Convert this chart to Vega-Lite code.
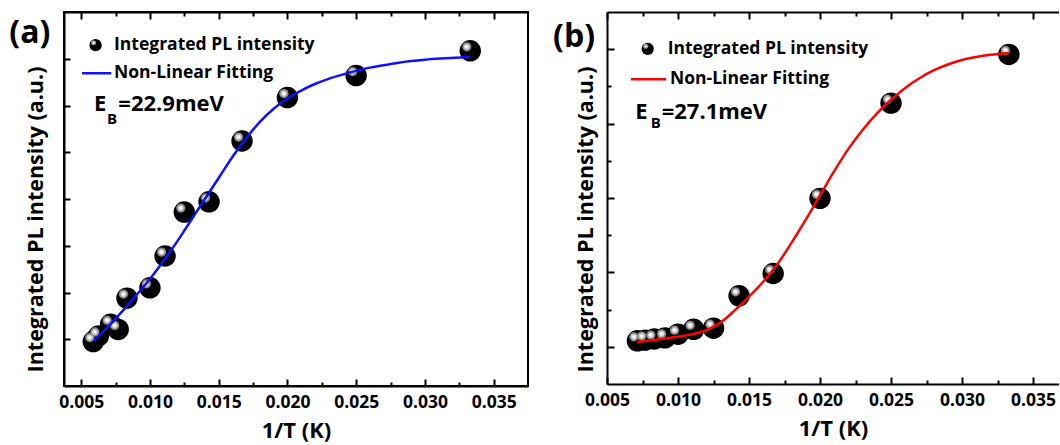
{
  "$schema": "https://vega.github.io/schema/vega-lite/v6.json",
  "autosize": {"type": "pad"},
  "padding": {"left": 8, "top": 10, "right": 0, "bottom": 0},
  "background": "white",
  "spacing": 24,
  "config": {
    "font": "Open Sans",
    "view": {"stroke": null},
    "axis": {
      "grid": false,
      "domainColor": "black",
      "domainWidth": 2,
      "tickColor": "black",
      "tickWidth": 2,
      "labelColor": "black",
      "titleColor": "black",
      "labelFont": "Open Sans",
      "titleFont": "Open Sans",
      "labelFontWeight": "bold",
      "titleFontWeight": "bold",
      "labelFontSize": 17.5,
      "titleFontSize": 21.5,
      "labelFlush": false,
      "labelOverlap": false
    }
  },
  "datasets": {
    "ptsA": [
      {"x": 0.00588, "y": -0.05}, {"x": 0.00625, "y": 0.07}, {"x": 0.00714, "y": 0.32},
      {"x": 0.00769, "y": 0.21}, {"x": 0.00833, "y": 0.88}, {"x": 0.0100, "y": 1.10},
      {"x": 0.0111, "y": 1.78}, {"x": 0.0125, "y": 2.72}, {"x": 0.0143, "y": 2.94},
      {"x": 0.0167, "y": 4.24}, {"x": 0.0200, "y": 5.17}, {"x": 0.0250, "y": 5.64},
      {"x": 0.0333, "y": 6.17}
    ],
    "fitA": [
      {"x": 0.0059, "y": -0.04}, {"x": 0.007, "y": 0.28}, {"x": 0.008, "y": 0.60},
      {"x": 0.009, "y": 0.94}, {"x": 0.010, "y": 1.29}, {"x": 0.011, "y": 1.68},
      {"x": 0.012, "y": 2.10}, {"x": 0.013, "y": 2.55}, {"x": 0.014, "y": 3.00},
      {"x": 0.015, "y": 3.45}, {"x": 0.016, "y": 3.90}, {"x": 0.017, "y": 4.30},
      {"x": 0.018, "y": 4.65}, {"x": 0.019, "y": 4.93}, {"x": 0.020, "y": 5.15},
      {"x": 0.021, "y": 5.32}, {"x": 0.022, "y": 5.46}, {"x": 0.023, "y": 5.57},
      {"x": 0.024, "y": 5.66}, {"x": 0.025, "y": 5.74}, {"x": 0.026, "y": 5.81},
      {"x": 0.027, "y": 5.86}, {"x": 0.028, "y": 5.91}, {"x": 0.029, "y": 5.95},
      {"x": 0.030, "y": 5.98}, {"x": 0.0315, "y": 6.01}, {"x": 0.0333, "y": 6.04}
    ],
    "ptsB": [
      {"x": 0.00714, "y": 0.16}, {"x": 0.00769, "y": 0.18}, {"x": 0.00833, "y": 0.21},
      {"x": 0.00909, "y": 0.24}, {"x": 0.0100, "y": 0.34}, {"x": 0.0111, "y": 0.47},
      {"x": 0.0125, "y": 0.50}, {"x": 0.0143, "y": 1.37}, {"x": 0.0167, "y": 1.97},
      {"x": 0.0200, "y": 3.99}, {"x": 0.0250, "y": 6.55}, {"x": 0.0333, "y": 7.86}
    ],
    "fitB": [
      {"x": 0.0071, "y": 0.13}, {"x": 0.008, "y": 0.17}, {"x": 0.009, "y": 0.22},
      {"x": 0.010, "y": 0.27}, {"x": 0.011, "y": 0.34}, {"x": 0.012, "y": 0.45},
      {"x": 0.013, "y": 0.65}, {"x": 0.014, "y": 0.98}, {"x": 0.015, "y": 1.35},
      {"x": 0.016, "y": 1.75}, {"x": 0.017, "y": 2.22}, {"x": 0.018, "y": 2.80},
      {"x": 0.019, "y": 3.42}, {"x": 0.020, "y": 4.07}, {"x": 0.021, "y": 4.72},
      {"x": 0.022, "y": 5.32}, {"x": 0.023, "y": 5.83}, {"x": 0.024, "y": 6.27},
      {"x": 0.025, "y": 6.64}, {"x": 0.026, "y": 6.96}, {"x": 0.027, "y": 7.22},
      {"x": 0.028, "y": 7.43}, {"x": 0.029, "y": 7.59}, {"x": 0.030, "y": 7.71},
      {"x": 0.031, "y": 7.79}, {"x": 0.032, "y": 7.85}, {"x": 0.0333, "y": 7.90}
    ]
  },
  "hconcat": [
    {
      "width": 464,
      "height": 374,
      "view": {"stroke": "black", "strokeWidth": 2},
      "resolve": {"axis": {"x": "independent", "y": "independent"}},
      "encoding": {
        "x": {"field": "x", "type": "quantitative", "scale": {"domain": [0.00375, 0.0375], "nice": false, "zero": false}, "axis": null},
        "y": {"field": "y", "type": "quantitative", "scale": {"domain": [-1, 7], "nice": false, "zero": false}, "axis": null}
      },
      "layer": [
        {
          "data": {"name": "ptsA"},
          "mark": {"type": "point", "filled": true, "color": "black", "size": 460, "opacity": 1, "strokeWidth": 0},
          "encoding": {
            "x": {"field": "x", "type": "quantitative", "scale": {"domain": [0.00375, 0.0375], "nice": false, "zero": false},
              "axis": {"orient": "bottom", "values": [0.005, 0.0075, 0.01, 0.0125, 0.015, 0.0175, 0.02, 0.0225, 0.025, 0.0275, 0.03, 0.0325, 0.035],
                "labelExpr": "round(datum.value*2000)%2==0 ? format(datum.value,'.3f') : ''",
                "tickSize": {"condition": {"test": "round(datum.value*2000)%2==0", "value": -7}, "value": -4},
                "labelPadding": 14, "title": "1/T (K)", "titleFontSize": 22, "titlePadding": 7}},
            "y": {"field": "y", "type": "quantitative", "scale": {"domain": [-1, 7], "nice": false, "zero": false},
              "axis": {"orient": "left", "values": [0, 1, 2, 3, 4, 5, 6], "labels": false, "tickSize": -6,
                "title": "Integrated PL intensity (a.u.)", "titleX": -17, "titleY": 207}}
          }
        },
        {
          "data": {"name": "ptsA"},
          "mark": {"type": "point", "filled": true, "color": "#8c8c8c", "size": 85, "xOffset": -3.5, "yOffset": -4, "opacity": 1, "strokeWidth": 0},
          "encoding": {
            "x": {"field": "x", "type": "quantitative", "scale": {"domain": [0.00375, 0.0375], "nice": false, "zero": false},
              "axis": {"orient": "top", "values": [0.005, 0.0075, 0.01, 0.0125, 0.015, 0.0175, 0.02, 0.0225, 0.025, 0.0275, 0.03, 0.0325, 0.035],
                "labels": false, "title": null,
                "tickSize": {"condition": {"test": "round(datum.value*2000)%2==0", "value": -7}, "value": -4}}}
          }
        },
        {
          "data": {"name": "ptsA"},
          "mark": {"type": "point", "filled": true, "color": "#d8d8d8", "size": 32, "xOffset": -3.5, "yOffset": -4, "opacity": 1, "strokeWidth": 0}
        },
        {
          "data": {"name": "ptsA"},
          "mark": {"type": "point", "filled": true, "color": "white", "size": 8, "xOffset": -3.5, "yOffset": -4, "opacity": 1, "strokeWidth": 0}
        },
        {
          "data": {"name": "fitA"},
          "mark": {"type": "line", "color": "#1010ff", "strokeWidth": 2.5, "interpolate": "monotone"}
        },
        {
          "data": {"values": [{"x": 0.00605, "y": 6.29}]},
          "mark": {"type": "point", "filled": true, "color": "black", "size": 150, "opacity": 1, "strokeWidth": 0}
        },
        {
          "data": {"values": [{"x": 0.00605, "y": 6.29}]},
          "mark": {"type": "point", "filled": true, "color": "#999999", "size": 25, "xOffset": -2, "yOffset": -2.5, "opacity": 1, "strokeWidth": 0}
        },
        {
          "data": {"values": [{"x": 0.00605, "y": 6.29}]},
          "mark": {"type": "point", "filled": true, "color": "white", "size": 5, "xOffset": -2, "yOffset": -2.5, "opacity": 1, "strokeWidth": 0}
        },
        {
          "data": {"values": [{"x": 0.00506, "x2": 0.00719, "y": 5.69}]},
          "mark": {"type": "rule", "color": "#1010ff", "strokeWidth": 2.5},
          "encoding": {"x2": {"field": "x2"}}
        },
        {
          "data": {"values": [{"x": 0.00739, "y": 6.29, "t": "Integrated PL intensity"}, {"x": 0.00739, "y": 5.69, "t": "Non-Linear Fitting"}]},
          "mark": {"type": "text", "font": "Open Sans", "fontWeight": "bold", "fontSize": 17.5, "align": "left", "baseline": "middle", "color": "black"},
          "encoding": {"text": {"field": "t"}}
        },
        {
          "data": {"values": [{"x": 0.00593, "y": 5.04, "t": "E"}, {"x": 0.00770, "y": 5.04, "t": "=22.9meV"}]},
          "mark": {"type": "text", "font": "Open Sans", "fontWeight": "bold", "fontSize": 22, "align": "left", "baseline": "middle", "color": "black"},
          "encoding": {"text": {"field": "t"}}
        },
        {
          "data": {"values": [{"x": 0.00688, "y": 4.72, "t": "B"}]},
          "mark": {"type": "text", "font": "Open Sans", "fontWeight": "bold", "fontSize": 15, "align": "left", "baseline": "middle", "color": "black"},
          "encoding": {"text": {"field": "t"}}
        },
        {
          "data": {"values": [{"x": -0.00023, "y": 6.55, "t": "(a)"}]},
          "mark": {"type": "text", "font": "Open Sans", "fontWeight": "bold", "fontSize": 32, "align": "left", "baseline": "middle", "color": "black"},
          "encoding": {"text": {"field": "t"}}
        }
      ]
    },
    {
      "width": 452,
      "height": 372,
      "view": {"stroke": null},
      "resolve": {"axis": {"x": "independent", "y": "independent"}},
      "encoding": {
        "x": {"field": "x", "type": "quantitative", "scale": {"domain": [0.005, 0.03683], "nice": false, "zero": false}, "axis": null},
        "y": {"field": "y", "type": "quantitative", "scale": {"domain": [-1, 9], "nice": false, "zero": false}, "axis": null}
      },
      "layer": [
        {
          "data": {"name": "ptsB"},
          "mark": {"type": "point", "filled": true, "color": "black", "size": 460, "opacity": 1, "strokeWidth": 0},
          "encoding": {
            "x": {"field": "x", "type": "quantitative", "scale": {"domain": [0.005, 0.03683], "nice": false, "zero": false},
              "axis": {"orient": "bottom", "values": [0.005, 0.0075, 0.01, 0.0125, 0.015, 0.0175, 0.02, 0.0225, 0.025, 0.0275, 0.03, 0.0325, 0.035],
                "labelExpr": "round(datum.value*2000)%2==0 ? format(datum.value,'.3f') : ''",
                "tickSize": {"condition": {"test": "round(datum.value*2000)%2==0", "value": -7}, "value": -4},
                "labelPadding": 14, "title": "1/T (K)", "titleFontSize": 22, "titlePadding": 7}},
            "y": {"field": "y", "type": "quantitative", "scale": {"domain": [-1, 9], "nice": false, "zero": false},
              "axis": {"orient": "left", "values": [0, 1, 2, 3, 4, 5, 6, 7, 8], "labels": false,
                "tickSize": {"condition": {"test": "datum.value%2==0", "value": -7}, "value": -4},
                "title": "Integrated PL intensity (a.u.)", "titleX": -10, "titleY": 207}}
          }
        },
        {
          "data": {"name": "ptsB"},
          "mark": {"type": "point", "filled": true, "color": "#8c8c8c", "size": 85, "xOffset": -3.5, "yOffset": -4, "opacity": 1, "strokeWidth": 0},
          "encoding": {
            "x": {"field": "x", "type": "quantitative", "scale": {"domain": [0.005, 0.03683], "nice": false, "zero": false},
              "axis": {"orient": "top", "values": [0.005, 0.0075, 0.01, 0.0125, 0.015, 0.0175, 0.02, 0.0225, 0.025, 0.0275, 0.03, 0.0325, 0.035],
                "labels": false, "title": null,
                "tickSize": {"condition": {"test": "round(datum.value*2000)%2==0", "value": -7}, "value": -4}}}
          }
        },
        {
          "data": {"name": "ptsB"},
          "mark": {"type": "point", "filled": true, "color": "#d8d8d8", "size": 32, "xOffset": -3.5, "yOffset": -4, "opacity": 1, "strokeWidth": 0}
        },
        {
          "data": {"name": "ptsB"},
          "mark": {"type": "point", "filled": true, "color": "white", "size": 8, "xOffset": -3.5, "yOffset": -4, "opacity": 1, "strokeWidth": 0}
        },
        {
          "data": {"name": "fitB"},
          "mark": {"type": "line", "color": "#ff0000", "strokeWidth": 2.5, "interpolate": "monotone"}
        },
        {
          "data": {"values": [{"x": 0.007866, "y": 8.01}]},
          "mark": {"type": "point", "filled": true, "color": "black", "size": 150, "opacity": 1, "strokeWidth": 0}
        },
        {
          "data": {"values": [{"x": 0.007866, "y": 8.01}]},
          "mark": {"type": "point", "filled": true, "color": "#999999", "size": 25, "xOffset": -2, "yOffset": -2.5, "opacity": 1, "strokeWidth": 0}
        },
        {
          "data": {"values": [{"x": 0.007866, "y": 8.01}]},
          "mark": {"type": "point", "filled": true, "color": "white", "size": 5, "xOffset": -2, "yOffset": -2.5, "opacity": 1, "strokeWidth": 0}
        },
        {
          "data": {"values": [{"x": 0.00669, "x2": 0.009155, "y": 7.19}]},
          "mark": {"type": "rule", "color": "#ff0000", "strokeWidth": 2.5},
          "encoding": {"x2": {"field": "x2"}}
        },
        {
          "data": {"values": [{"x": 0.009275, "y": 8.01, "t": "Integrated PL intensity"}, {"x": 0.009437, "y": 7.19, "t": "Non-Linear Fitting"}]},
          "mark": {"type": "text", "font": "Open Sans", "fontWeight": "bold", "fontSize": 17.5, "align": "left", "baseline": "middle", "color": "black"},
          "encoding": {"text": {"field": "t"}}
        },
        {
          "data": {"values": [{"x": 0.006993, "y": 6.325, "t": "E"}, {"x": 0.00885, "y": 6.325, "t": "=27.1meV"}]},
          "mark": {"type": "text", "font": "Open Sans", "fontWeight": "bold", "fontSize": 22, "align": "left", "baseline": "middle", "color": "black"},
          "encoding": {"text": {"field": "t"}}
        },
        {
          "data": {"values": [{"x": 0.00808, "y": 6.024, "t": "B"}]},
          "mark": {"type": "text", "font": "Open Sans", "fontWeight": "bold", "fontSize": 15, "align": "left", "baseline": "middle", "color": "black"},
          "encoding": {"text": {"field": "t"}}
        },
        {
          "data": {"values": [{"x": 0.0012, "y": 8.33, "t": "(b)"}]},
          "mark": {"type": "text", "font": "Open Sans", "fontWeight": "bold", "fontSize": 32, "align": "left", "baseline": "middle", "color": "black"},
          "encoding": {"text": {"field": "t"}}
        }
      ]
    }
  ]
}
